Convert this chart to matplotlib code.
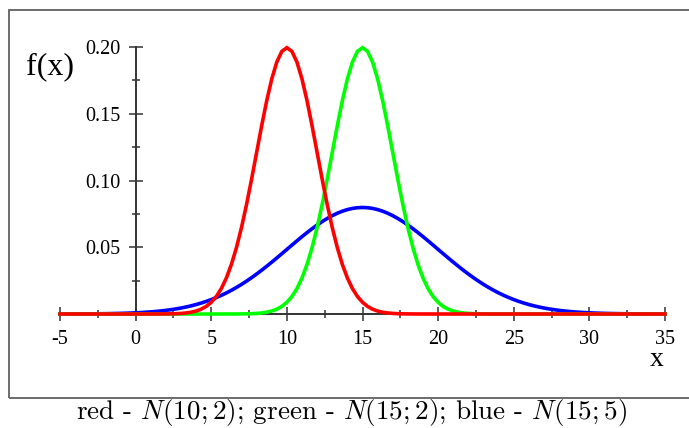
import numpy as np
import matplotlib
matplotlib.use("Agg")
import matplotlib.pyplot as plt
from matplotlib.patches import Rectangle

# ---- data ----
series_names = ["blue", "green", "red"]
series_colors = ["#0000ff", "#00ff00", "#ff0000"]
series_means = [15, 15, 10]
series_sigmas = [5, 2, 2]
x_ticks = [-5, 0, 5, 10, 15, 20, 25, 30, 35]
x_tick_labels = ["-5", "0", "5", "10", "15", "20", "25", "30", "35"]
y_ticks = [0.05, 0.10, 0.15, 0.20]
y_tick_labels = ["0.05", "0.10", "0.15", "0.20"]
caption = "red - $N(10;2)$; green - $N(15;2)$; blue - $N(15;5)$"

plt.rcParams["mathtext.fontset"] = "cm"
plt.rcParams["axes.unicode_minus"] = False

W, H = 689, 428
fig = plt.figure(figsize=(W / 100, H / 100), dpi=100)

# frame
fig.patches.append(Rectangle((9 / W, 1 - 398 / H), 700 / W, 388 / H,
                             transform=fig.transFigure, fill=False,
                             edgecolor="#606060", linewidth=1.3))

ax = fig.add_axes([60 / W, 114 / H, 605 / W, 267 / H])
ax.set_facecolor("none")
ax.set_xlim(-5, 35)
ax.set_ylim(0, 0.2)

xs = np.linspace(-5, 35, 121)
for name, col, mu, sd in zip(series_names, series_colors, series_means, series_sigmas):
    ys = np.exp(-0.5 * ((xs - mu) / sd) ** 2) / (sd * np.sqrt(2 * np.pi))
    ax.plot(xs, ys, color=col, linewidth=2.6, clip_on=False, zorder=3,
            solid_joinstyle="miter")

for s in ["top", "right"]:
    ax.spines[s].set_visible(False)
ax.spines["left"].set_position(("data", 0))
ax.spines["left"].set_color("#333333")
ax.spines["bottom"].set_color("#333333")
ax.spines["left"].set_linewidth(1.4)
ax.spines["bottom"].set_linewidth(1.4)
ax.spines["left"].set_zorder(1)
ax.spines["bottom"].set_zorder(1)

ax.set_xticks(x_ticks)
ax.set_xticklabels(x_tick_labels)
ax.set_xticks(np.arange(-2.5, 35, 5), minor=True)
ax.set_yticks(y_ticks)
ax.set_yticklabels(y_tick_labels)
ax.set_yticks(np.arange(0.025, 0.2, 0.05), minor=True)

ax.tick_params(which="major", direction="inout", length=10.5, width=1.1,
               color="#333333", labelsize=14.5, pad=6)
ax.tick_params(which="minor", direction="inout", length=5.8, width=1.1,
               color="#333333")
for lab in ax.get_xticklabels() + ax.get_yticklabels():
    lab.set_fontfamily("Liberation Serif")

fig.text(50 / W, 1 - 67 / H, "f(x)", fontsize=23, family="Liberation Serif",
         ha="center", va="center")
fig.text(657 / W, 1 - 359 / H, "x", fontsize=20, family="Liberation Serif",
         ha="center", va="center")
fig.text(352 / W, 1 - 413 / H, caption, fontsize=19.5, family="cmr10",
         ha="center", va="center")

fig.savefig("out.png", dpi=100)
